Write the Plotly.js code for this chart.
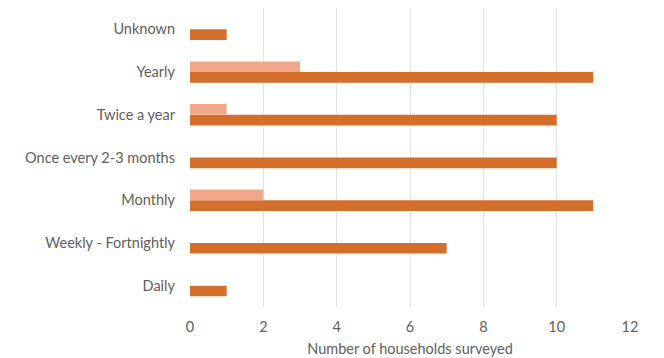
<!DOCTYPE html>
<html>
<head>
<meta charset="utf-8">
<script src="https://cdn.plot.ly/plotly-3.0.1.min.js"></script>
<style>html,body{margin:0;padding:0;background:#fff;}#chart{width:664px;height:358px;}</style>
</head>
<body>
<div id="chart"></div>
<script>
const categories = ["Daily", "Weekly - Fortnightly", "Monthly", "Once every 2-3 months", "Twice a year", "Yearly", "Unknown"];
const seriesA = [1, 7, 11, 10, 10, 11, 1];
const seriesB = [0, 0, 2, 0, 1, 3, 0];
const xTicks = [0, 2, 4, 6, 8, 10, 12];

const traces = [
  {type: 'bar', orientation: 'h', y: categories, x: seriesA, name: 'A',
   marker: {color: '#D46E2B', line: {width: 0}}},
  {type: 'bar', orientation: 'h', y: categories, x: seriesB, name: 'B',
   marker: {color: '#F1A88A', line: {width: 0}}}
];
const font = {family: 'Lato, "Open Sans", sans-serif', size: 14.5, color: '#5E5E5E'};
const layout = {
  width: 664, height: 358,
  margin: {l: 190, r: 34, t: 8, b: 51},
  barmode: 'group', bargap: 0.5, bargroupgap: 0,
  showlegend: false,
  paper_bgcolor: '#fff', plot_bgcolor: '#fff',
  font: font,
  xaxis: {range: [0, 12], tickvals: xTicks, ticktext: xTicks.map(String),
          showgrid: true, gridcolor: '#E3E3E3', gridwidth: 1,
          zeroline: true, zerolinecolor: '#FFFFFF', showline: false, ticks: '',
          ticklabelstandoff: 9, fixedrange: true,
          title: {text: 'Number of households surveyed', font: font, standoff: 10}},
  yaxis: {type: 'category', categoryorder: 'array', categoryarray: categories,
          showgrid: false, zeroline: false, showline: false, ticks: '',
          ticklabelstandoff: 14, fixedrange: true}
};
Plotly.newPlot('chart', traces, layout, {displayModeBar: false, staticPlot: true});
</script>
</body>
</html>
